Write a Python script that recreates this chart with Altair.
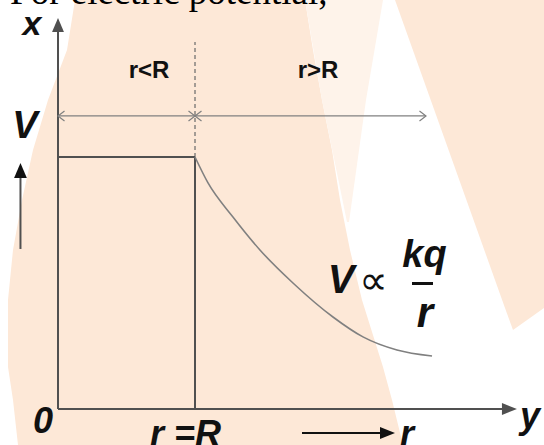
import altair as alt
import pandas as pd

# Potential of a charged conducting sphere of radius R:
# constant inside (r < R), falling off as kq/r outside (r > R).
# Distances are in units of R, potentials in units of the surface value kq/R.
r_inside = [0.0, 1.0]
v_inside = [1.0, 1.0]
r_outside = [1.0, 1.095, 1.277, 1.474, 1.715, 2.007, 2.226, 2.474, 2.730]
v_outside = [1.0, 0.897, 0.762, 0.631, 0.500, 0.365, 0.286, 0.234, 0.210]

region_labels = ["r<R", "r>R"]

# Faint watermark behind the sketch, in canvas units (y grows downwards)
wm_part = ["main"] * 10 + ["pale"] * 3 + ["band"] * 3
wm_y = [0, 50, 100, 150, 200, 250, 300, 367, 400, 445, 0, 100, 222, 0, 308, 330]
wm_x1 = [75, 67, 48, 33, 22, 13, 8, 8, 13, 18, 305, 322, 347, 395, 505, 513]
wm_x2 = [305, 313, 322, 332, 340, 350, 362, 383, 392, 403, 383, 366, 349, 544, 544, 513]

W, H = 544, 445
INK = "#111111"
LINE = "#505050"
THIN = "#808080"
PEACH = "#FDE8D7"

xs = alt.Scale(domain=[-0.4234, 3.5474], nice=False, zero=False)
ys = alt.Scale(domain=[-0.1429, 1.6230], nice=False, zero=False)


def seg(r1, v1, r2, v2, color=LINE, width=2.0, dash=None):
    df = pd.DataFrame({"r": [r1], "v": [v1], "r2": [r2], "v2": [v2]})
    kw = dict(color=color, strokeWidth=width)
    if dash:
        kw["strokeDash"] = dash
    return alt.Chart(df).mark_rule(**kw).encode(
        x=alt.X("r:Q", scale=xs, axis=None),
        y=alt.Y("v:Q", scale=ys, axis=None),
        x2="r2:Q",
        y2="v2:Q",
    )


def head(r, v, path, size, filled=True, color=LINE, width=1.2):
    df = pd.DataFrame({"r": [r], "v": [v]})
    if filled:
        kw = dict(shape=path, size=size, filled=True, fill=color,
                  strokeWidth=0, opacity=1)
    else:
        kw = dict(shape=path, size=size, filled=False, stroke=color,
                  strokeWidth=width, opacity=1)
    return alt.Chart(df).mark_point(**kw).encode(
        x=alt.X("r:Q", scale=xs, axis=None),
        y=alt.Y("v:Q", scale=ys, axis=None),
    )


def label(txt, r, v, size, font="Liberation Sans", style="italic", weight="bold",
          align="center", baseline="alphabetic", color=INK):
    df = pd.DataFrame({"r": [r], "v": [v], "t": [txt]})
    return alt.Chart(df).mark_text(
        font=font, fontSize=size, fontStyle=style, fontWeight=weight,
        align=align, baseline=baseline, color=color,
    ).encode(
        x=alt.X("r:Q", scale=xs, axis=None),
        y=alt.Y("v:Q", scale=ys, axis=None),
        text="t:N",
    )


UP = "M0,0L0.85,2L-0.85,2Z"
RIGHT = "M0,0L-2,-0.8L-2,0.8Z"
OPEN_L = "M1.3,-1L0,0L1.3,1"
OPEN_R = "M-1.3,-1L0,0L-1.3,1"

# Watermark
wm = pd.DataFrame({"part": wm_part, "cy": wm_y, "x1": wm_x1, "x2": wm_x2})
watermark = alt.Chart(wm).mark_area(orient="horizontal", opacity=1).encode(
    y=alt.Y("cy:Q", scale=alt.Scale(domain=[0, H], reverse=True, nice=False, zero=False), axis=None),
    x=alt.X("x1:Q", scale=alt.Scale(domain=[0, W], nice=False, zero=False), axis=None),
    x2="x2:Q",
    color=alt.Color("part:N", legend=None,
                    scale=alt.Scale(domain=["main", "pale", "band"],
                                    range=[PEACH, "#FEF3EA", PEACH])),
    detail="part:N",
)

# Potential curve: flat inside, kq/r outside
inside = alt.Chart(pd.DataFrame({"r": r_inside, "v": v_inside})).mark_line(
    color=LINE, strokeWidth=2).encode(
    x=alt.X("r:Q", scale=xs, axis=None), y=alt.Y("v:Q", scale=ys, axis=None))
outside = alt.Chart(pd.DataFrame({"r": r_outside, "v": v_outside})).mark_line(
    color=THIN, strokeWidth=1.6, interpolate="monotone").encode(
    x=alt.X("r:Q", scale=xs, axis=None), y=alt.Y("v:Q", scale=ys, axis=None))

R = r_inside[-1]
V_S = v_inside[-1]

layers = [
    # axes
    seg(0, 0, 0, 1.50),
    seg(0, 0, 3.25, 0),
    head(0, 1.552, UP, 196),
    head(3.350, 0, RIGHT, 225),
    # surface r = R
    seg(R, 0, R, V_S),
    seg(R, V_S, R, 1.456, color="#6a6a6a", width=1.2, dash=[4, 3]),
    inside,
    outside,
    # region dimension line
    seg(0, 1.163, 2.686, 1.163, color=THIN, width=1.2),
    head(0, 1.163, OPEN_L, 100, filled=False, color=THIN),
    head(R, 1.163, OPEN_R, 100, filled=False, color=THIN),
    head(R, 1.163, OPEN_L, 100, filled=False, color=THIN),
    head(2.686, 1.163, OPEN_R, 100, filled=False, color=THIN),
    label(region_labels[0], 0.664, 1.313, 24, style="normal"),
    label(region_labels[1], 1.898, 1.313, 24, style="normal"),
    # direction arrows
    seg(-0.274, 0.635, -0.274, 0.93),
    head(-0.274, 0.976, UP, 225, color=INK),
    seg(1.781, -0.0952, 2.40, -0.0952, color=INK),
    head(2.460, -0.0952, RIGHT, 225, color=INK),
    # labels
    label("x", -0.190, 1.484, 34),
    label("V", -0.241, 1.075, 38),
    label("0", -0.1095, -0.0952, 36),
    label("r =R", 0.672, -0.147, 36, align="left"),
    label("r", 2.496, -0.147, 36, align="left"),
    label("y", 3.445, -0.0754, 36),
    label("V", 2.066, 0.460, 40),
    label("\u221d", 2.303, 0.458, 40, font="DejaVu Sans", weight="normal"),
    label("kq", 2.675, 0.5635, 38),
    seg(2.584, 0.498, 2.737, 0.498, color=INK, width=3),
    label("r", 2.679, 0.325, 42),
    label("For electric potential,", -0.350, 1.607, 37, font="Liberation Serif",
          style="normal", weight="normal", align="left", color="#000000"),
]

diagram = alt.layer(*layers)

chart = alt.layer(watermark, diagram).resolve_scale(
    x="independent", y="independent"
).properties(
    width=W, height=H, padding=0,
    autosize=alt.AutoSizeParams(type="none"),
    background="white",
).configure_view(stroke=None)

chart.save("out.html", embed_options={"renderer": "svg", "actions": False})
